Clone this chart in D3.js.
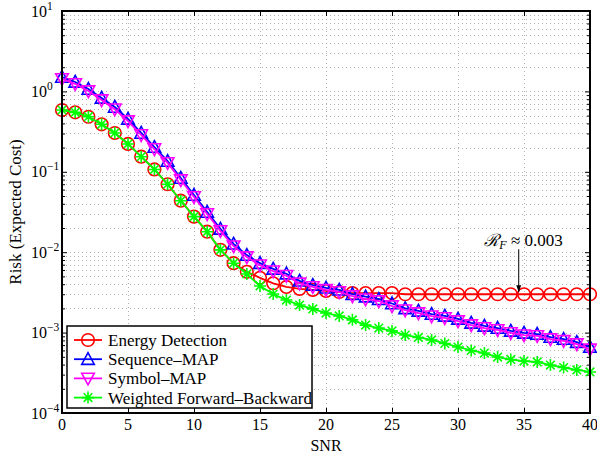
<!DOCTYPE html>
<html>
<head>
<meta charset="utf-8">
<script src="https://cdn.jsdelivr.net/npm/d3@7"></script>
<style>
  body { margin: 0; background: #ffffff; }
  svg { display: block; font-family: "Liberation Serif", "Times New Roman", serif; }
</style>
</head>
<body>
<div id="chart"></div>
<script>
// SNR values (x axis)
var snr = d3.range(0, 41);

// Risk values, one per SNR point
var energy_detection = [0.587, 0.549, 0.484, 0.390, 0.304, 0.222, 0.154, 0.107, 0.070, 0.0437,
    0.0277, 0.0180, 0.0107, 0.0073, 0.0057, 0.0048, 0.0041, 0.0037, 0.0035, 0.0034,
    0.0033, 0.0032, 0.0031, 0.0031, 0.0031, 0.0031, 0.0030, 0.0030, 0.0030, 0.0030,
    0.0030, 0.0030, 0.0030, 0.0030, 0.0030, 0.0030, 0.0030, 0.0030, 0.0030, 0.0030, 0.0030];

var sequence_map = [1.51, 1.31, 1.07, 0.83, 0.64, 0.454, 0.304, 0.203, 0.136, 0.0837,
    0.0514, 0.0316, 0.0195, 0.0127, 0.0092, 0.0073, 0.0062, 0.0054, 0.0044, 0.0039,
    0.0036, 0.0034, 0.0030, 0.0028, 0.0026, 0.0023, 0.0020, 0.00186, 0.0017, 0.00161,
    0.00148, 0.00132, 0.00121, 0.00114, 0.00105, 0.00099, 0.00096, 0.00088, 0.00083, 0.00076, 0.00066];

var symbol_map = [1.43, 1.24, 1.01, 0.78, 0.60, 0.428, 0.287, 0.192, 0.129, 0.079,
    0.0486, 0.0299, 0.0184, 0.0119, 0.0087, 0.0069, 0.0058, 0.0051, 0.0041, 0.0037,
    0.0034, 0.0032, 0.00285, 0.0026, 0.00247, 0.00214, 0.0019, 0.00175, 0.0016, 0.00152,
    0.00139, 0.00124, 0.00114, 0.00108, 0.00099, 0.00093, 0.00091, 0.00083, 0.00079, 0.00072, 0.00062];

var weighted_fb = [0.587, 0.549, 0.484, 0.390, 0.304, 0.222, 0.154, 0.107, 0.070, 0.0437,
    0.0277, 0.0180, 0.0107, 0.0073, 0.00536, 0.0038, 0.00302, 0.00254, 0.00220, 0.00197,
    0.00175, 0.00161, 0.00144, 0.00124, 0.00114, 0.00105, 0.000933, 0.00087, 0.00081, 0.000732,
    0.000662, 0.000599, 0.000557, 0.000497, 0.000463, 0.000443, 0.000431, 0.000395, 0.000368, 0.000343, 0.000324];

var series_names = ["Energy Detection", "Sequence\u2013MAP", "Symbol\u2013MAP", "Weighted Forward\u2013Backward"];
var series_colors = ["#ff0000", "#0000ff", "#ff00ff", "#00ff00"];
var series_markers = ["circle", "up", "down", "star"];

var x_ticks = [0, 5, 10, 15, 20, 25, 30, 35, 40];
var y_ticks = [1e-4, 1e-3, 1e-2, 1e-1, 1, 10];
var y_tick_exps = ["\u22124", "\u22123", "\u22122", "\u22121", "0", "1"];

// Layout
var width = 597, height = 455;
var margin = {top: 11, right: 7, bottom: 42, left: 62};
var inner_w = width - margin.left - margin.right,
    inner_h = height - margin.top - margin.bottom;

var x = d3.scaleLinear().domain([0, 40]).range([0, inner_w]);
var y = d3.scaleLog().domain([1e-4, 10]).range([inner_h, 0]);

var svg = d3.select("#chart").append("svg")
    .attr("width", width)
    .attr("height", height);

svg.append("rect").attr("width", width).attr("height", height).attr("fill", "#fff");

var g = svg.append("g")
    .attr("transform", "translate(" + margin.left + "," + margin.top + ")");

//Minor log ticks (2..9 in each decade)
var minor_ticks = [];
for (var e = -4; e < 1; e++) {
    for (var m = 2; m <= 9; m++) {
        minor_ticks.push(m * Math.pow(10, e));
    }
}

//Grid - horizontal at every major and minor y tick, vertical at x ticks
var grid = g.append("g").attr("class", "grid")
    .attr("stroke", "#a0a0a0")
    .attr("stroke-width", 0.8)
    .attr("stroke-dasharray", "1,3");

grid.selectAll(".hgrid")
    .data(y_ticks.concat(minor_ticks))
    .enter().append("line")
    .attr("x1", 0).attr("x2", inner_w)
    .attr("y1", function(d) { return Math.round(y(d)) + 0.5; })
    .attr("y2", function(d) { return Math.round(y(d)) + 0.5; });

grid.selectAll(".vgrid")
    .data(x_ticks)
    .enter().append("line")
    .attr("y1", 0).attr("y2", inner_h)
    .attr("x1", function(d) { return Math.round(x(d)) + 0.5; })
    .attr("x2", function(d) { return Math.round(x(d)) + 0.5; });

//Axes, ticks point inwards like matlab
var xAxisBottom = d3.axisBottom(x).tickValues(x_ticks).tickSizeInner(-5).tickSizeOuter(0).tickFormat("");
var xAxisTop = d3.axisTop(x).tickValues(x_ticks).tickSizeInner(-5).tickSizeOuter(0).tickFormat("");
var yAxisLeft = d3.axisLeft(y).tickValues(y_ticks).tickSizeInner(-5).tickSizeOuter(0).tickFormat("");
var yAxisRight = d3.axisRight(y).tickValues(y_ticks).tickSizeInner(-5).tickSizeOuter(0).tickFormat("");
var yMinorLeft = d3.axisLeft(y).tickValues(minor_ticks).tickSizeInner(-3).tickSizeOuter(0).tickFormat("");
var yMinorRight = d3.axisRight(y).tickValues(minor_ticks).tickSizeInner(-3).tickSizeOuter(0).tickFormat("");

var axes = [
    [xAxisBottom, "translate(0," + inner_h + ")"],
    [xAxisTop, "translate(0,0)"],
    [yAxisLeft, "translate(0,0)"],
    [yAxisRight, "translate(" + inner_w + ",0)"],
    [yMinorLeft, "translate(0,0)"],
    [yMinorRight, "translate(" + inner_w + ",0)"]
];
axes.forEach(function(a) {
    var ax = g.append("g").attr("transform", a[1]).call(a[0]);
    ax.select(".domain").remove();
    ax.selectAll("line").attr("stroke", "#000").attr("stroke-width", 1);
});

//X tick labels
g.selectAll(".xlabel")
    .data(x_ticks)
    .enter().append("text")
    .attr("x", function(d) { return x(d); })
    .attr("y", inner_h + 17)
    .attr("text-anchor", "middle")
    .style("font-size", "16px")
    .text(function(d) { return d; });

//Y tick labels as 10^n
var ylab = g.selectAll(".ylabel")
    .data(y_ticks)
    .enter().append("text")
    .attr("x", -31)
    .attr("y", function(d) { return y(d) + 5.5; })
    .style("font-size", "16px");
ylab.append("tspan").text("10");
ylab.append("tspan")
    .attr("dy", -7)
    .style("font-size", "11.5px")
    .text(function(d, i) { return y_tick_exps[i]; });

//Series lines and markers
var all_series = [energy_detection, sequence_map, symbol_map, weighted_fb];

var line = d3.line()
    .x(function(d, i) { return x(snr[i]); })
    .y(function(d) { return y(d); });

function draw_marker(sel, type, color) {
    if (type == "circle") {
        sel.append("circle").attr("r", 6.3)
            .attr("fill", "none").attr("stroke", color).attr("stroke-width", 1.6);
    } else if (type == "up") {
        sel.append("path").attr("d", "M0,-6.5L6.3,5.2L-6.3,5.2Z")
            .attr("fill", "none").attr("stroke", color).attr("stroke-width", 1.6);
    } else if (type == "down") {
        sel.append("path").attr("d", "M0,6.5L6.3,-5.2L-6.3,-5.2Z")
            .attr("fill", "none").attr("stroke", color).attr("stroke-width", 1.6);
    } else {
        sel.append("path").attr("d", "M-6,0L6,0M0,-6L0,6M-4.3,-4.3L4.3,4.3M-4.3,4.3L4.3,-4.3")
            .attr("fill", "none").attr("stroke", color).attr("stroke-width", 1.6);
    }
}

all_series.forEach(function(values, k) {
    var sg = g.append("g").attr("class", "series");
    sg.append("path")
        .datum(values)
        .attr("d", line)
        .attr("fill", "none")
        .attr("stroke", series_colors[k])
        .attr("stroke-width", 1.8);

    sg.selectAll(".marker")
        .data(values)
        .enter().append("g")
        .attr("transform", function(d, i) { return "translate(" + x(snr[i]) + "," + y(d) + ")"; })
        .each(function() { draw_marker(d3.select(this), series_markers[k], series_colors[k]); });
});

//Box around the plot
g.append("rect")
    .attr("width", inner_w).attr("height", inner_h)
    .attr("fill", "none").attr("stroke", "#000").attr("stroke-width", 2);

//Annotation R_F ~ 0.003 with arrow
var ann_x = 34.6, ann_val = 0.0030;
svg.append("defs").append("marker")
    .attr("id", "arrowhead")
    .attr("viewBox", "0 0 10 10")
    .attr("refX", 10).attr("refY", 5)
    .attr("markerWidth", 7).attr("markerHeight", 7)
    .attr("orient", "auto")
    .append("path").attr("d", "M0,1.5L10,5L0,8.5Z").attr("fill", "#000");

g.append("line")
    .attr("x1", x(ann_x)).attr("x2", x(ann_x))
    .attr("y1", y(ann_val) - 45).attr("y2", y(ann_val) - 2)
    .attr("stroke", "#000").attr("stroke-width", 1)
    .attr("marker-end", "url(#arrowhead)");

var ann = g.append("text")
    .attr("x", x(ann_x) + 44)
    .attr("y", y(ann_val) - 48)
    .attr("text-anchor", "end")
    .style("font-size", "17px");
ann.append("tspan").style("font-family", "DejaVu Serif").style("font-style", "italic").style("font-size", "17px").text("\u211B");
ann.append("tspan").attr("dy", 3).style("font-style", "italic").style("font-size", "12px").text("F");
ann.append("tspan").attr("dy", -3).text(" \u2248 0.003");

//Legend
var legend_x = 5, legend_y = inner_h - 87;
var legend = g.append("g").attr("transform", "translate(" + legend_x + "," + legend_y + ")");
legend.append("rect")
    .attr("width", 245).attr("height", 82)
    .attr("fill", "#fff").attr("stroke", "#000").attr("stroke-width", 1.5);

var items = legend.selectAll(".legend")
    .data(series_names)
    .enter().append("g")
    .attr("transform", function(d, i) { return "translate(0," + (14 + i * 19.2) + ")"; });

items.append("line")
    .attr("x1", 7).attr("x2", 35)
    .attr("stroke", function(d, i) { return series_colors[i]; })
    .attr("stroke-width", 1.8);

items.each(function(d, i) {
    var m = d3.select(this).append("g").attr("transform", "translate(21,0)");
    draw_marker(m, series_markers[i], series_colors[i]);
});

items.append("text")
    .attr("x", 41)
    .attr("dy", "0.35em")
    .style("font-size", "17px")
    .text(function(d) { return d; });

//Axis titles
svg.append("text")
    .attr("x", margin.left + inner_w / 2)
    .attr("y", height - 4)
    .attr("text-anchor", "middle")
    .style("font-size", "16px")
    .text("SNR");

svg.append("text")
    .attr("transform", "rotate(-90)")
    .attr("x", -(margin.top + inner_h / 2))
    .attr("y", 21)
    .attr("text-anchor", "middle")
    .style("font-size", "17px")
    .text("Risk (Expected Cost)");
</script>
</body>
</html>
